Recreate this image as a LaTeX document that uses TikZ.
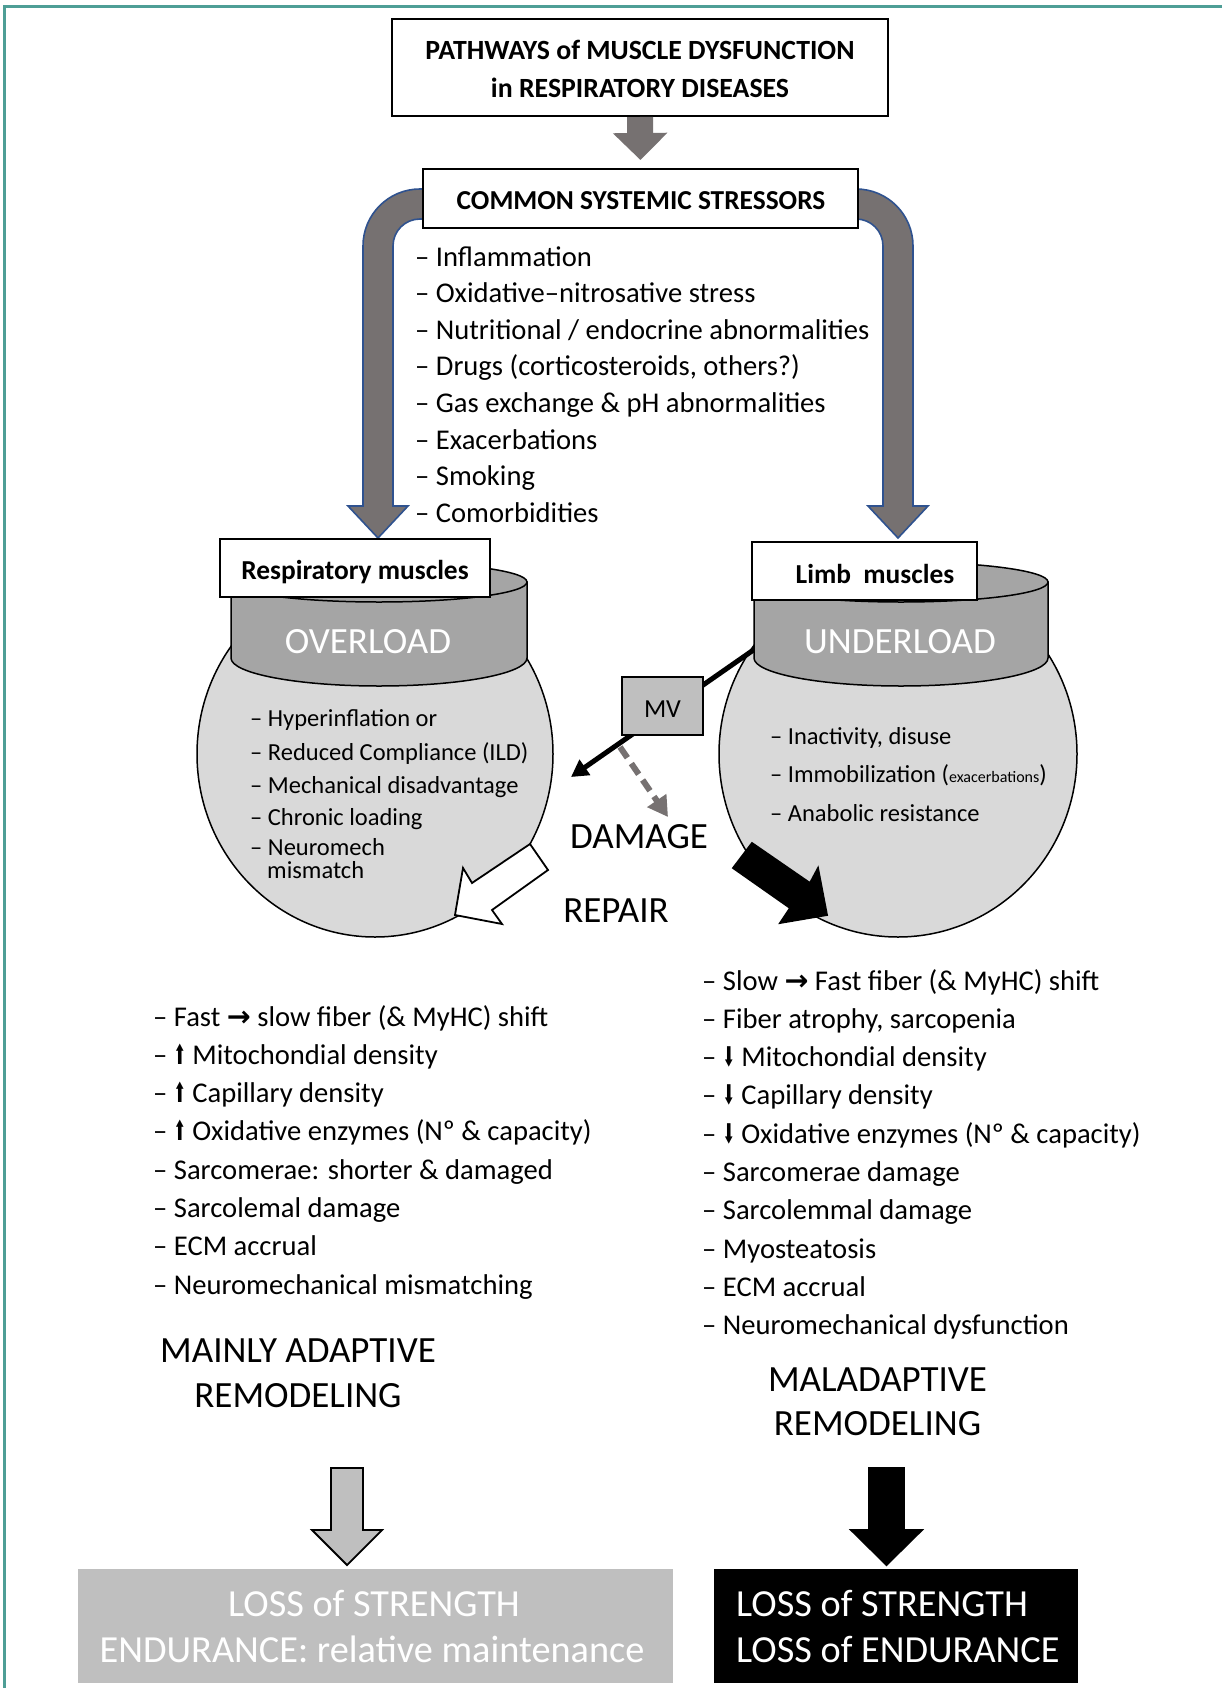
\documentclass[tikz,border=0pt]{standalone}
\usepackage{fontspec}
\usepackage{graphicx}
\setmainfont{Carlito}
\newfontfamily\dejavu{DejaVu Sans}
\usetikzlibrary{arrows.meta}
\definecolor{teal1}{RGB}{78,158,150}
\definecolor{arrgray}{RGB}{118,113,113}
\definecolor{ublue}{RGB}{47,82,143}
\definecolor{cylgray}{RGB}{165,165,165}
\definecolor{sphgray}{RGB}{217,217,217}
\definecolor{boxgray}{RGB}{191,191,191}
\newcommand\myrarr{{\dejavu\bfseries →}}
\newcommand\myuparr{\raisebox{0pt}{\scalebox{0.5}[0.95]{\dejavu\bfseries ⬆}}}
\newcommand\mydnarr{\raisebox{0pt}{\scalebox{0.5}[0.95]{\dejavu\bfseries ⬇}}}
\begin{document}
\begin{tikzpicture}[x=1pt,y=-1pt,
  lbl/.style={inner sep=0pt, anchor=base},
  lstL/.style={inner sep=0pt, anchor=base west},
  bigfont/.style={font=\fontsize{37}{44}\selectfont},
  lossfont/.style={font=\fontsize{38.3}{46}\selectfont},
  listfont/.style={font=\fontsize{28.6}{34}\selectfont},
  smallfont/.style={font=\fontsize{24.5}{29}\selectfont},
  hdfont/.style={font=\bfseries\fontsize{27.8}{33}\selectfont},
  sthfont/.style={font=\bfseries\fontsize{27.4}{33}\selectfont},
  mufont/.style={font=\bfseries\fontsize{27.4}{33}\selectfont},
  blockbox/.style={draw=black, line width=2pt, fill=white, inner sep=0pt},
  uarrow/.style={fill=arrgray, draw=ublue, line width=1.6pt},
  cyl/.style={fill=cylgray, draw=black, line width=1.5pt},
  sph/.style={fill=sphgray, draw=black, line width=1.5pt},
  blockarr/.style={draw=black, line width=1.8pt, line join=miter},
]
\useasboundingbox (0,0) rectangle (1222,1688);
\fill[white] (0,0) rectangle (1222,1688);
% frame
\draw[teal1, line width=3pt] (4,1688) -- (4,7) -- (1222,7);

% title
\node[blockbox, minimum width=496pt, minimum height=97pt] (title) at (640,67.5) {};
\node[lbl, hdfont] (t1) at (640,60) {PATHWAYS of MUSCLE DYSFUNCTION};
\node[lbl, hdfont] (t2) at (640,98) {in RESPIRATORY DISEASES};

% U arrows
\draw[uarrow] (430,189) -- (420,189) .. controls (388.5,189) and (363,214.5) .. (363,246)
  -- (363,506) -- (348,506) -- (378,538) -- (408,506) -- (393,506) -- (393,246)
  .. controls (393,231) and (405,219) .. (420,219) -- (430,219) -- cycle;
\draw[uarrow] (850,189) -- (856,189) .. controls (887.5,189) and (913,214.5) .. (913,246)
  -- (913,506) -- (928,506) -- (898,538) -- (868,506) -- (883,506) -- (883,246)
  .. controls (883,231) and (871,219) .. (856,219) -- (850,219) -- cycle;

% stressors box
\node[blockbox, minimum width=435pt, minimum height=59pt] (stress) at (640.5,198.5) {};
\node[lbl, sthfont] (stxt) at (641,210) {COMMON SYSTEMIC STRESSORS};
\draw[arrgray, line width=26pt, shorten >=8pt, -{Triangle[length=27pt,width=53pt]}] (title.south) -- (stress.north);

\foreach \t [count=\i] in {Inflammation, Oxidative–nitrosative stress, Nutritional / endocrine abnormalities,
  {Drugs (corticosteroids, others?)}, Gas exchange \& pH abnormalities, Exacerbations, Smoking, Comorbidities}
  \node[lstL, listfont] (s\i) at (415, 266+36.6*\i-36.6) {– \t};

% spheres
\draw[sph] (375,754) ellipse[x radius=178, y radius=183];
\draw[sph] (898,754) ellipse[x radius=179, y radius=183];

% MV line
\coordinate (mvA) at (762,644);
\coordinate (mvB) at (571,777);
\draw[line width=5pt, -{Triangle[length=17pt,width=18pt]}] (mvA) -- (mvB);
\coordinate (dsA) at (620,747);
\coordinate (dsB) at (668,817);
\draw[arrgray, line width=6pt, dash pattern=on 13pt off 7pt, -{Triangle[length=20pt,width=22pt]}] (dsA) -- (dsB);

% cylinders
\draw[cyl] (231,582) -- (231,658) arc[start angle=180, end angle=0, x radius=148, y radius=28] -- (527,582) -- cycle;
\draw[cyl] (379,582) ellipse[x radius=148, y radius=20];
\draw[cyl] (754,582) -- (754,658) arc[start angle=180, end angle=0, x radius=147, y radius=28] -- (1048,582) -- cycle;
\draw[cyl] (901,582) ellipse[x radius=147, y radius=20];
\node[lbl, bigfont, text=white] (ovl) at (368,653) {OVERLOAD};
\node[lbl, bigfont, text=white] (unl) at (900,653) {UNDERLOAD};

% muscle labels
\node[blockbox, minimum width=270pt, minimum height=58pt] (resp) at (355,568) {};
\node[lbl, mufont] (resptxt) at (355,579) {Respiratory muscles};
\node[blockbox, minimum width=225pt, minimum height=58pt] (limb) at (864.5,571) {};
\node[lbl, mufont] (limbtxt) at (875,583) {Limb\ \ muscles};

% MV box
\node[draw=black, line width=1.5pt, fill=boxgray, minimum width=81pt, minimum height=58pt, inner sep=0pt] (mv) at (662.5,706) {};
\node[lbl, font=\fontsize{26}{31}\selectfont] (mvtxt) at (662.5,717) {MV};

% left sphere list
\node[lstL, smallfont] (l1) at (250,726) {– Hyperinflation or};
\node[lstL, smallfont] (l2) at (250,760) {– Reduced Compliance (ILD)};
\node[lstL, smallfont] (l3) at (250,793) {– Mechanical disadvantage};
\node[lstL, smallfont] (l4) at (250,825) {– Chronic loading};
\node[lstL, smallfont] (l5) at (250,855) {– Neuromech};
\node[lstL, smallfont] (l6) at (267,878) {mismatch};

% right sphere list
\node[lstL, smallfont] (r1) at (770,744) {– Inactivity, disuse};
\node[lstL, smallfont] (r2) at (770,782) {– Immobilization ({\fontsize{16}{19}\selectfont exacerbations})};
\node[lstL, smallfont] (r3) at (770,821) {– Anabolic resistance};

% block arrows
\draw[blockarr, fill=white] (530,844) -- (472,883) -- (463,868) -- (455,915) -- (502,924) -- (492,910) -- (548,870) -- cycle;
\draw[blockarr, fill=black] (752,843) -- (810,883) -- (818,868) -- (827,915) -- (780,923) -- (790,908) -- (733,868) -- cycle;

\node[lbl, bigfont] (dmg) at (639,848) {DAMAGE};
\node[lbl, bigfont] (rep) at (616,922) {REPAIR};

% bottom lists
\foreach \t [count=\i] in {{Fast \myrarr\ slow fiber (\& MyHC) shift}, \myuparr\ Mitochondial density,
  \myuparr\ Capillary density, \myuparr\ Oxidative enzymes (Nº \& capacity),
  Sarcomerae: shorter \& damaged, Sarcolemal damage, ECM accrual, Neuromechanical mismatching}
  \node[lstL, listfont] (bl\i) at (153, 1026+38.3*\i-38.3) {– \t};
\foreach \t [count=\i] in {{Slow \myrarr\ Fast fiber (\& MyHC) shift}, {Fiber atrophy, sarcopenia},
  \mydnarr\ Mitochondial density, \mydnarr\ Capillary density, \mydnarr\ Oxidative enzymes (Nº \& capacity),
  Sarcomerae damage, Sarcolemmal damage, Myosteatosis, ECM accrual, Neuromechanical dysfunction}
  \node[lstL, listfont] (br\i) at (702, 990+38.3*\i-38.3) {– \t};

\node[lbl, bigfont] (ma1) at (298,1362) {MAINLY ADAPTIVE};
\node[lbl, bigfont] (ma2) at (298,1407) {REMODELING};
\node[lbl, bigfont] (mal1) at (877.5,1391) {MALADAPTIVE};
\node[lbl, bigfont] (mal2) at (877.5,1435) {REMODELING};

% bottom arrows
\draw[blockarr, fill=boxgray] (331,1468) -- (363,1468) -- (363,1530) -- (382,1530) -- (347,1565) -- (312,1530) -- (331,1530) -- cycle;
\draw[blockarr, fill=black] (869,1468) -- (904,1468) -- (904,1530) -- (922,1530) -- (886.5,1565) -- (851,1530) -- (869,1530) -- cycle;

% bottom boxes
\node[fill=boxgray, minimum width=595pt, minimum height=114pt, inner sep=0pt] (lossL) at (375.5,1626) {};
\node[lbl, lossfont, text=white] (lossL1) at (374,1616) {LOSS of STRENGTH};
\node[lbl, lossfont, text=white] (lossL2) at (372,1662) {ENDURANCE: relative maintenance};
\node[fill=black, minimum width=364pt, minimum height=114pt, inner sep=0pt] (lossR) at (896,1626) {};
\node[lstL, lossfont, text=white] (lossR1) at (736,1616) {LOSS of STRENGTH};
\node[lstL, lossfont, text=white] (lossR2) at (736,1662) {LOSS of ENDURANCE};
\end{tikzpicture}
\end{document}
